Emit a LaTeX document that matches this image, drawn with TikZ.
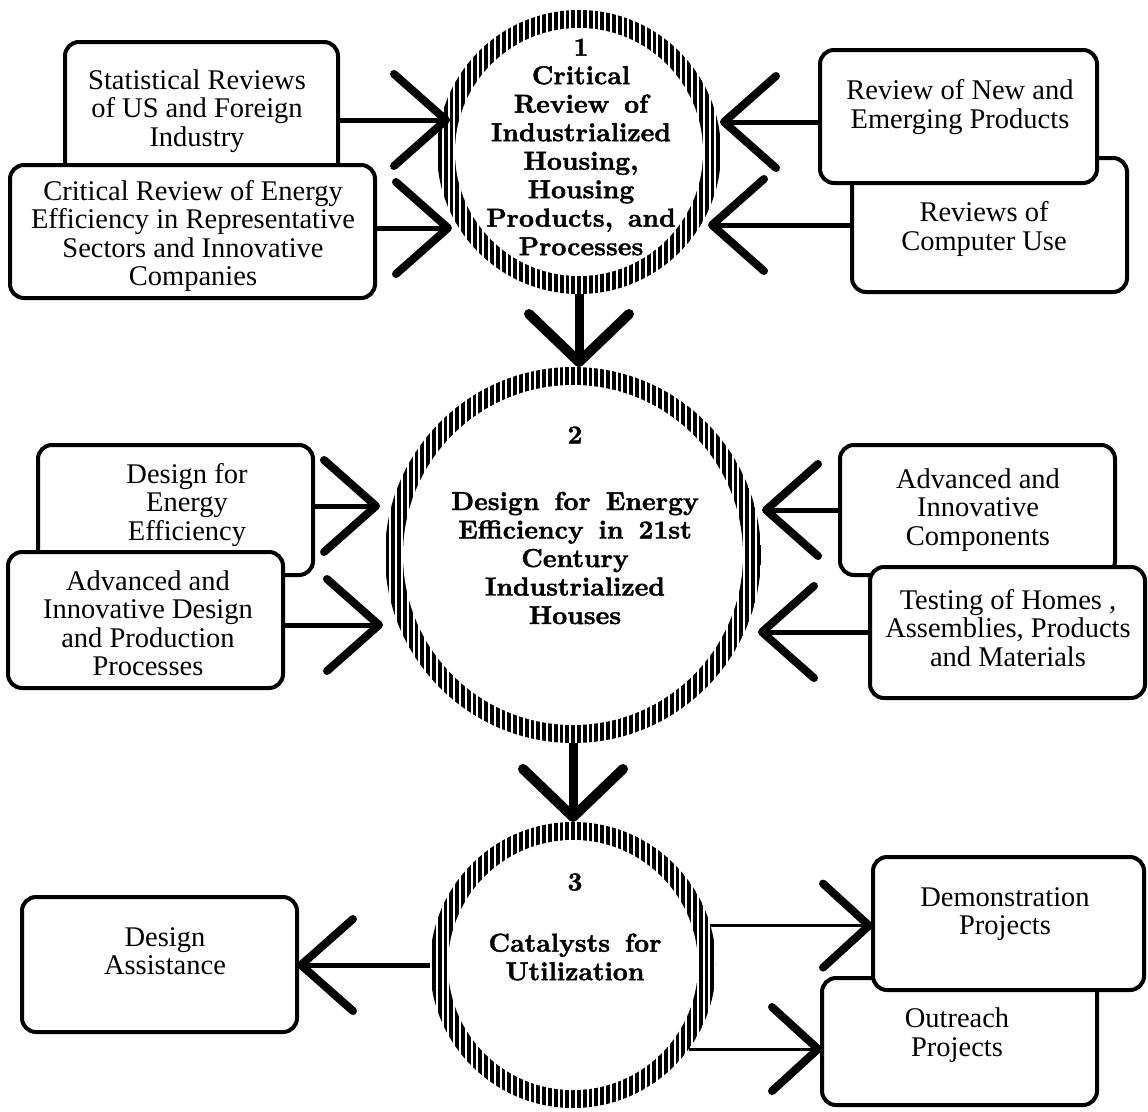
\documentclass[tikz,border=0pt]{standalone}
\usepackage{fontspec}
\setmainfont{Liberation Serif}
\newfontfamily\cfont[WordSpace=1.5, FakeBold=1.5]{lmroman10-bold.otf}
\usetikzlibrary{arrows.meta}
\tikzset{
  box/.style={draw=black, line width=4pt, rounded corners=14pt, fill=white, inner sep=0pt, outer sep=0pt},
  btxt/.style={font=\fontsize{28.5pt}{28.5pt}\selectfont, align=center, inner sep=0pt},
  ctxt/.style={font=\cfont\fontsize{26pt}{28.5pt}\selectfont, align=center, inner sep=0pt},
  cnode/.style={circle, draw=none, inner sep=0pt, outer sep=0pt},
  sidearrow/.style={line width=5pt, -{Straight Barb[length=52pt, width=92pt, line width=8pt, round]}},
  thinarrow/.style={line width=3pt, -{Straight Barb[length=46pt, width=84pt, line width=8pt, round]}},
  downarrow/.style={line width=9pt, -{Straight Barb[length=48pt, width=100pt, line width=10pt, round]}},
}
\newcommand\hatchring[3]{%
  \begin{scope}
    \clip (#1,#2) circle[radius=#3];
    \foreach \k in {-36,...,36}{\draw[line width=3.8pt] ({#1+\k*5.8},{#2-#3-2}) -- ({#1+\k*5.8},{#2+#3+2});}
  \end{scope}
  \fill[white] (#1,#2) circle[radius=#3-18];}
\begin{document}
\begin{tikzpicture}[x=1pt, y=-1pt]
\useasboundingbox (0,0) rectangle (1148,1111);
% circles (named nodes)
\node[cnode, minimum size=284pt] (C1) at (579,152) {};
\node[cnode, minimum size=376pt] (C2) at (573,555) {};
\node[cnode, minimum size=286pt] (C3) at (573,965) {};
% boxes
\node[box, minimum width=273pt, minimum height=158pt] (A) at (201.5,121) {};
\node[box, minimum width=365pt, minimum height=133pt] (B) at (192.5,231.5) {};
\node[box, minimum width=275pt, minimum height=134pt] (D) at (989.5,225) {};
\node[box, minimum width=277pt, minimum height=133pt] (C) at (958.5,116.5) {};
\node[box, minimum width=275pt, minimum height=130pt] (E) at (175.5,510) {};
\node[box, minimum width=275pt, minimum height=136pt] (F) at (145.5,620) {};
\node[box, minimum width=275pt, minimum height=130pt] (G) at (977.5,510) {};
\node[box, minimum width=275pt, minimum height=131pt] (H) at (1007.5,632.5) {};
\node[box, minimum width=275pt, minimum height=135pt] (I) at (159.5,964.5) {};
\node[box, minimum width=275pt, minimum height=127pt] (K) at (959.5,1041.5) {};
\node[box, minimum width=271pt, minimum height=133pt] (J) at (1008.5,923.5) {};
% hatched rings
\hatchring{579}{152}{142}
\hatchring{573}{555}{188}
\hatchring{573}{965}{143}
% arrow tips
\coordinate (t1) at (450,120);
\coordinate (t2) at (452,228);
\coordinate (t3) at (720,122);
\coordinate (t4) at (708,225);
\coordinate (t5) at (380,506);
\coordinate (t6) at (383,625);
\coordinate (t7) at (762,510);
\coordinate (t8) at (758,632);
% connectors
\draw[sidearrow] (A.east |- t1) -- (t1);
\draw[sidearrow] (B.east |- t2) -- (t2);
\draw[sidearrow] (C.west |- t3) -- (t3);
\draw[sidearrow] (D.west |- t4) -- (t4);
\draw[sidearrow] (E.east |- t5) -- (t5);
\draw[sidearrow] (F.east |- t6) -- (t6);
\draw[sidearrow] (G.west |- t7) -- (t7);
\draw[sidearrow] (H.west |- t8) -- (t8);
\draw[downarrow] (C1.south) -- (C1.south |- C2.north);
\draw[downarrow] (C2.south) -- (C2.south |- C3.north);
\draw[sidearrow] (C3.west) -- (C3.west -| I.east);
\draw[thinarrow] (C3.16) -- (C3.16 -| J.west);
\draw[thinarrow] (C3.-36) -- (C3.-36 -| K.west);
% box texts
\node[btxt] (tA) at (197,111) {Statistical Reviews\\of US and Foreign\\Industry};
\node[btxt] (tB) at (193,236) {Critical Review of Energy\\Efficiency in Representative\\Sectors and Innovative\\Companies};
\node[btxt] (tC) at (960,107) {Review of New and\\Emerging Products};
\node[btxt] (tD) at (984,229) {Reviews of\\Computer Use};
\node[btxt] (tE) at (187,505) {Design for\\Energy\\Efficiency};
\node[btxt] (tF) at (148,623) {Advanced and\\Innovative Design\\and Production\\Processes};
\node[btxt] (tG) at (978,510) {Advanced and\\Innovative\\Components};
\node[btxt] (tH) at (1008,628) {Testing of Homes ,\\Assemblies, Products\\and Materials};
\node[btxt] (tI) at (165,951) {Design\\Assistance};
\node[btxt] (tJ) at (1005,914) {Demonstration\\Projects};
\node[btxt] (tK) at (957,1035) {Outreach\\Projects};
% circle texts
\node[ctxt] (tC1) at (581,147) {1\\Critical\\Review of\\Industrialized\\Housing,\\Housing\\Products, and\\Processes};
\node[ctxt] (nC2) at (575,435) {2};
\node[ctxt] (tC2) at (575,558) {Design for Energy\\Efficiency in 21st\\Century\\Industrialized\\Houses};
\node[ctxt] (nC3) at (575,882) {3};
\node[ctxt] (tC3) at (575,957) {Catalysts for\\Utilization};
\end{tikzpicture}
\end{document}
